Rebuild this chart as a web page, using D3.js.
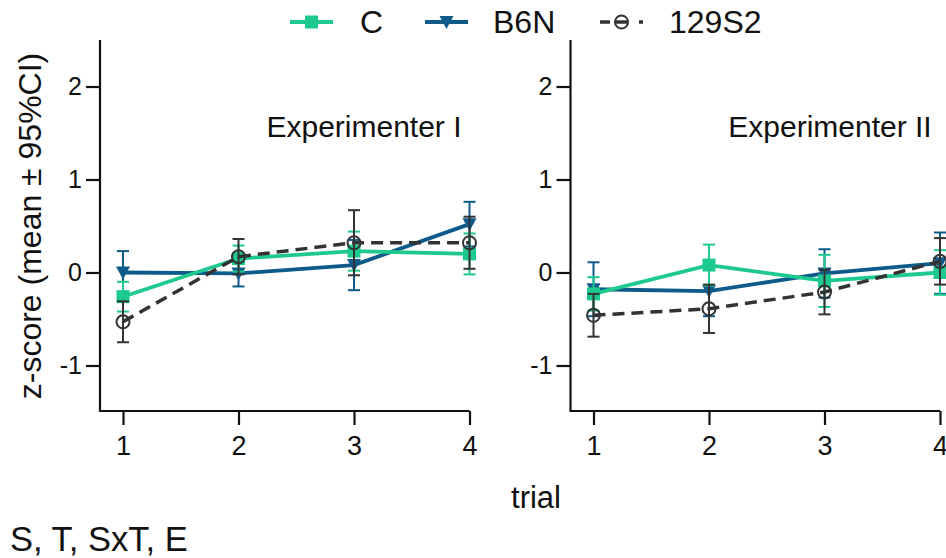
<!DOCTYPE html>
<html><head><meta charset="utf-8">
<script src="https://cdn.jsdelivr.net/npm/d3@7"></script>
<style>body{margin:0;background:#fff}svg{display:block;font-family:"Liberation Sans",Arial,sans-serif}</style>
</head><body>
<svg id="c" width="946" height="558"></svg>
<script>
const trials = [1, 2, 3, 4];
const yTicks = [-1, 0, 1, 2];
const panels = ["Experimenter I", "Experimenter II"];
const seriesNames = ["C", "B6N", "129S2"];
// Experimenter I
const C_I      = [-0.26, 0.15, 0.23, 0.20];
const C_I_ci   = [0.16, 0.14, 0.21, 0.22];
const B6N_I    = [0.00, -0.01, 0.08, 0.52];
const B6N_I_ci = [0.23, 0.14, 0.27, 0.24];
const S129_I   = [-0.53, 0.17, 0.32, 0.32];
const S129_I_ci= [0.22, 0.19, 0.35, 0.28];
// Experimenter II
const C_II      = [-0.23, 0.08, -0.09, 0.00];
const C_II_ci   = [0.18, 0.22, 0.28, 0.24];
const B6N_II    = [-0.18, -0.20, -0.01, 0.10];
const B6N_II_ci = [0.29, 0.27, 0.26, 0.33];
const S129_II   = [-0.46, -0.39, -0.21, 0.12];
const S129_II_ci= [0.23, 0.26, 0.24, 0.25];

const colors = {"C": "#1ec98f", "B6N": "#0e5a8a", "129S2": "#333333"};

const svg = d3.select("#c");
const y = d3.scaleLinear().domain([-1.5, 2.5]).range([412, 40]);
const panelDefs = [
  {name: panels[0], axisX: 100, x0: 123, x1: 469.5, labelX: 364,
   data: {"C": [C_I, C_I_ci], "B6N": [B6N_I, B6N_I_ci], "129S2": [S129_I, S129_I_ci]}},
  {name: panels[1], axisX: 570.5, x0: 593.5, x1: 940, labelX: 830,
   data: {"C": [C_II, C_II_ci], "B6N": [B6N_II, B6N_II_ci], "129S2": [S129_II, S129_II_ci]}}
];

function marker(g, name, cx, cy) {
  const col = colors[name];
  if (name === "C") {
    g.append("rect").attr("x", cx - 6.5).attr("y", cy - 6.5).attr("width", 13).attr("height", 13).attr("fill", col);
  } else if (name === "B6N") {
    g.append("path").attr("d", `M${cx-7},${cy-6}L${cx+7},${cy-6}L${cx},${cy+7}Z`).attr("fill", col);
  } else {
    g.append("circle").attr("cx", cx).attr("cy", cy).attr("r", 6.5).attr("fill", "none").attr("stroke", col).attr("stroke-width", 2);
  }
}

panelDefs.forEach(p => {
  const x = d3.scaleLinear().domain([1, 4]).range([p.x0, p.x1]);
  const g = svg.append("g");
  const ya = g.append("g").attr("transform", `translate(${p.axisX},0)`)
    .call(d3.axisLeft(y).tickValues(yTicks).tickSize(14).tickPadding(4).tickFormat(d => String(d)));
  ya.select(".domain").attr("d", `M0,${y.range()[1]}V${y.range()[0]}`);
  ya.attr("font-size", 25);
  const xa = g.append("g").attr("transform", `translate(0,${y.range()[0]-1})`)
    .call(d3.axisBottom(x).tickValues(trials).tickSize(14).tickPadding(11).tickFormat(d => String(d)));
  xa.select(".domain").attr("d", `M${p.axisX},0H${p.x1}`);
  xa.attr("font-size", 27);
  g.selectAll(".domain").attr("stroke", "#111").attr("stroke-width", 2.2);
  g.selectAll(".tick line").attr("stroke", "#111").attr("stroke-width", 2.2);
  g.selectAll("g").attr("font-family", "Liberation Sans, Arial, sans-serif");
  g.selectAll(".tick text").attr("fill", "#111");
  g.append("text").attr("x", p.labelX).attr("y", 137).attr("text-anchor", "middle")
    .attr("font-size", 30).attr("fill", "#111").text(p.name);

  ["B6N", "C", "129S2"].forEach(name => {
    const [vals, ci] = p.data[name];
    const col = colors[name];
    const sg = g.append("g");
    trials.forEach((t, i) => {
      const cx = x(t), lo = y(vals[i] - ci[i]), hi = y(vals[i] + ci[i]);
      sg.append("line").attr("x1", cx).attr("x2", cx).attr("y1", lo).attr("y2", hi).attr("stroke", col).attr("stroke-width", 2);
      [lo, hi].forEach(v => sg.append("line").attr("x1", cx - 6).attr("x2", cx + 6).attr("y1", v).attr("y2", v).attr("stroke", col).attr("stroke-width", 2));
    });
    const line = d3.line().x((d, i) => x(trials[i])).y(d => y(d));
    sg.append("path").attr("d", line(vals)).attr("fill", "none").attr("stroke", col)
      .attr("stroke-width", name === "129S2" ? 3.5 : 3.8)
      .attr("stroke-dasharray", name === "129S2" ? "12,7" : null);
    trials.forEach((t, i) => marker(sg, name, x(t), y(vals[i])));
  });
});

const leg = [{name: "C", x0: 290, tx: 360}, {name: "B6N", x0: 425, tx: 493}, {name: "129S2", x0: 600, tx: 669}];
leg.forEach(l => {
  const g = svg.append("g");
  const col = colors[l.name];
  if (l.name === "129S2") {
    g.append("line").attr("x1", l.x0).attr("x2", l.x0 + 10).attr("y1", 22).attr("y2", 22).attr("stroke", col).attr("stroke-width", 3.5);
    g.append("line").attr("x1", l.x0 + 15).attr("x2", l.x0 + 28).attr("y1", 22).attr("y2", 22).attr("stroke", col).attr("stroke-width", 3.5);
    g.append("line").attr("x1", l.x0 + 39).attr("x2", l.x0 + 43).attr("y1", 22).attr("y2", 22).attr("stroke", col).attr("stroke-width", 3.5);
    marker(g, l.name, l.x0 + 21.5, 22);
  } else {
    g.append("line").attr("x1", l.x0).attr("x2", l.x0 + 43).attr("y1", 22).attr("y2", 22).attr("stroke", col).attr("stroke-width", 3.8);
    marker(g, l.name, l.x0 + 21.5, 22);
  }
  g.append("text").attr("x", l.tx).attr("y", 33).attr("font-size", 32).attr("fill", "#111").text(l.name);
});

svg.append("text").attr("transform", "translate(41,226) rotate(-90)").attr("text-anchor", "middle")
  .attr("font-size", 32).attr("fill", "#111").text("z-score (mean ± 95%CI)");
svg.append("text").attr("x", 536).attr("y", 508).attr("text-anchor", "middle").attr("font-size", 31).attr("fill", "#111").text("trial");
svg.append("text").attr("x", 10).attr("y", 551).attr("font-size", 34.5).attr("fill", "#111").text("S, T, SxT, E");
</script>
</body></html>
